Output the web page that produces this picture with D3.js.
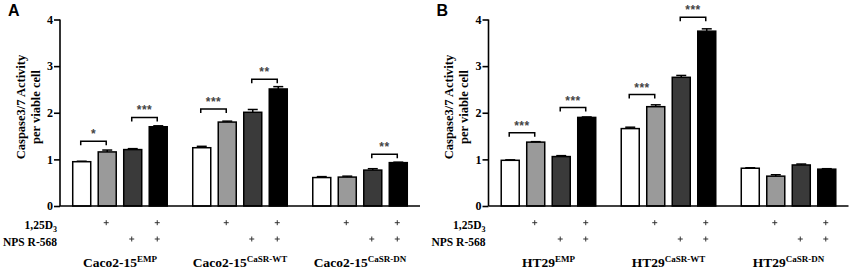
<!DOCTYPE html>
<html>
<head>
  <meta charset="utf-8">
  <title>Caspase3/7 activity</title>
  <script src="https://d3js.org/d3.v7.min.js"></script>
  <style>
    body { margin: 0; background: #fff; }
    svg text { font-family: "Liberation Serif", "DejaVu Serif", serif !important; font-weight: bold; }
    svg text.sans { font-family: "Liberation Sans", Arial, sans-serif !important; }
    .domain, .tick line { stroke: #000; stroke-width: 1.6; }
  </style>
</head>
<body>
<script>
  // data
  var cellLinesA = ["Caco2-15", "Caco2-15", "Caco2-15"];
  var cellLinesB = ["HT29", "HT29", "HT29"];
  var variants = ["EMP", "CaSR-WT", "CaSR-DN"];
  var conditions = ["ctrl", "D3", "NPS", "D3+NPS"];
  var vitD = [0, 1, 0, 1];
  var nps = [0, 0, 1, 1];
  var fills = ["#ffffff", "#9a9a9a", "#3a3a3a", "#000000"];
  var yTicks = [0, 1, 2, 3, 4];

  var valuesA = [[0.95, 1.16, 1.21, 1.70], [1.25, 1.80, 2.01, 2.51], [0.61, 0.62, 0.77, 0.93]];
  var errorsA = [[0.01, 0.04, 0.02, 0.02], [0.03, 0.02, 0.06, 0.05], [0.02, 0.02, 0.03, 0.01]];
  var valuesB = [[0.98, 1.37, 1.06, 1.90], [1.66, 2.13, 2.76, 3.75], [0.81, 0.64, 0.88, 0.79]];
  var errorsB = [[0.01, 0.01, 0.02, 0.01], [0.03, 0.04, 0.04, 0.05], [0.01, 0.03, 0.02, 0.01]];

  // significance brackets: group, bar from, bar to, bracket level, stars
  var sigA = [[0, 0, 1, 1.39, "*"], [0, 2, 3, 1.90, "***"], [1, 0, 1, 2.08, "***"], [1, 2, 3, 2.72, "**"], [2, 2, 3, 1.11, "**"]];
  var sigB = [[0, 0, 1, 1.57, "***"], [0, 2, 3, 2.11, "***"], [1, 0, 1, 2.39, "***"], [1, 2, 3, 4.05, "***"]];

  var width = 852, height = 271;
  var svg = d3.select("body").append("svg").attr("width", width).attr("height", height);

  var y = d3.scaleLinear().domain([0, 4]).range([206, 19.5]);

  drawPanel("A", 60, cellLinesA, valuesA, errorsA, sigA);
  drawPanel("B", 488.5, cellLinesB, valuesB, errorsB, sigB);

  function drawPanel(letter, left, lines, values, errors, sig) {
    var g = svg.append("g").attr("transform", "translate(" + left + ",0)");

    var x0 = d3.scaleBand().domain(variants).range([0, 360]).paddingInner(0.2125).paddingOuter(0.106);
    var x1 = d3.scaleBand().domain(conditions).range([0, x0.bandwidth()]).paddingInner(0.294).paddingOuter(0);

    // panel letter
    svg.append("text").attr("class", "sans").attr("x", left - 52).attr("y", 16)
      .style("font-size", "16px").text(letter);

    // y title
    var yt = g.append("text").attr("transform", "translate(-35.5," + 107 + ") rotate(-90)")
      .attr("text-anchor", "middle").style("font-size", "12.5px");
    yt.append("tspan").attr("x", 0).attr("dy", 0).text("Caspase3/7 Activity");
    yt.append("tspan").attr("x", 0).attr("dy", 15).text("per viable cell");

    // bars
    var grp = g.selectAll(".grp").data(values).enter().append("g")
      .attr("transform", function (d, i) { return "translate(" + x0(variants[i]) + ",0)"; });

    grp.selectAll("rect").data(function (d) { return d; }).enter().append("rect")
      .attr("x", function (d, j) { return x1(conditions[j]); })
      .attr("y", function (d) { return y(d); })
      .attr("width", x1.bandwidth())
      .attr("height", function (d) { return y(0) - y(d); })
      .attr("fill", function (d, j) { return fills[j]; })
      .attr("stroke", "#000").attr("stroke-width", 1.5);

    // error bars
    grp.each(function (d, i) {
      var e = d3.select(this).selectAll(".err").data(d).enter().append("g");
      e.append("line")
        .attr("x1", function (v, j) { return x1(conditions[j]) + x1.bandwidth() / 2; })
        .attr("x2", function (v, j) { return x1(conditions[j]) + x1.bandwidth() / 2; })
        .attr("y1", function (v) { return y(v); })
        .attr("y2", function (v, j) { return y(v + errors[i][j]); })
        .attr("stroke", "#000").attr("stroke-width", 1.5);
      e.append("line")
        .attr("x1", function (v, j) { return x1(conditions[j]) + x1.bandwidth() / 2 - 5; })
        .attr("x2", function (v, j) { return x1(conditions[j]) + x1.bandwidth() / 2 + 5; })
        .attr("y1", function (v, j) { return y(v + errors[i][j]); })
        .attr("y2", function (v, j) { return y(v + errors[i][j]); })
        .attr("stroke", "#000").attr("stroke-width", 1.5);
    });

    // axes
    g.append("g").call(d3.axisLeft(y).tickValues(yTicks).tickSize(6).tickPadding(1).tickFormat(d3.format("d")))
      .call(function (a) { a.selectAll("text").style("font-size", "12px").attr("fill", "#000"); })
      .call(function (a) { a.select(".domain").attr("d", "M0," + y(4) + "V" + y(0)); });

    g.append("line").attr("x1", 0).attr("x2", 360).attr("y1", y(0)).attr("y2", y(0))
      .attr("stroke", "#000").attr("stroke-width", 1.6);

    // significance brackets
    sig.forEach(function (s) {
      var xa = x0(variants[s[0]]) + x1(conditions[s[1]]) + x1.bandwidth() / 2 - 1;
      var xb = x0(variants[s[0]]) + x1(conditions[s[2]]) + x1.bandwidth() / 2 - 1;
      var yy = y(s[3]);
      g.append("path").attr("d", "M" + xa + "," + (yy + 4) + "V" + yy + "H" + xb + "V" + (yy + 4))
        .attr("fill", "none").attr("stroke", "#000").attr("stroke-width", 1.5);
      g.append("text").attr("class", "sans").attr("x", (xa + xb) / 2).attr("y", yy - 3)
        .attr("text-anchor", "middle").attr("fill", "#444")
        .style("font-size", "12px").style("letter-spacing", "0.5px").text(s[4]);
    });

    // treatment rows
    var rowY = [222.7, 239];
    var rowFlags = [vitD, nps];
    rowFlags.forEach(function (flags, r) {
      variants.forEach(function (v) {
        flags.forEach(function (f, j) {
          if (!f) return;
          var cx = x0(v) + x1(conditions[j]) + x1.bandwidth() / 2 - 1;
          g.append("path").attr("d", "M" + (cx - 2.5) + "," + rowY[r] + "h5M" + cx + "," + (rowY[r] - 2.5) + "v5")
            .attr("stroke", "#333").attr("stroke-width", 1);
        });
      });
    });
    var lab1 = g.append("text").attr("x", -3).attr("y", 229).attr("text-anchor", "end").style("font-size", "11.5px");
    lab1.append("tspan").text("1,25D");
    lab1.append("tspan").attr("dy", 3).style("font-size", "8px").text("3");
    g.append("text").attr("x", -3).attr("y", 246).attr("text-anchor", "end").style("font-size", "11.5px").text("NPS R-568");

    // group labels
    variants.forEach(function (v, i) {
      var t = g.append("text").attr("x", x0(v) + x0.bandwidth() / 2).attr("y", 267)
        .attr("text-anchor", "middle").style("font-size", "13.5px");
      t.append("tspan").text(lines[i]);
      t.append("tspan").attr("dy", -5).style("font-size", "9px").text(v);
    });
  }
</script>
</body>
</html>
